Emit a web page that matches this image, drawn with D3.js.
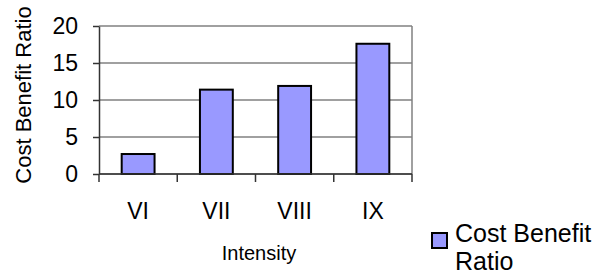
<!DOCTYPE html>
<html>
<head>
<meta charset="utf-8">
<script src="https://cdn.jsdelivr.net/npm/d3@7"></script>
<style>
  body { margin: 0; background: #fff; }
  svg { font-family: Arial, "Liberation Sans", sans-serif; }
</style>
</head>
<body>
<svg id="chart"></svg>
<script>
// chart data
const categories = ['VI', 'VII', 'VIII', 'IX'];
const ratioValues = [2.7, 11.4, 11.9, 17.6];
const yTicks = [0, 5, 10, 15, 20];
const seriesName = 'Cost Benefit Ratio';

const width = 610, height = 278;
const margin = {top: 26, right: 198, bottom: 104, left: 99};
const innerW = width - margin.left - margin.right;
const innerH = height - margin.top - margin.bottom;

const svg = d3.select('#chart')
    .attr('width', width)
    .attr('height', height);

const chart = svg.append('g')
    .attr('transform', `translate(${margin.left},${margin.top})`);

const xScale = d3.scaleBand()
    .domain(categories)
    .range([0, innerW])
    .paddingInner(0.58)
    .paddingOuter(0.29);

const yScale = d3.scaleLinear()
    .domain([0, 20])
    .range([innerH, 0]);

// gridlines
chart.append('g')
    .selectAll('line')
    .data(yTicks)
    .join('line')
    .attr('x1', 0)
    .attr('x2', innerW)
    .attr('y1', d => yScale(d))
    .attr('y2', d => yScale(d))
    .attr('stroke', '#808080')
    .attr('stroke-width', 1.5);

// right border
chart.append('line')
    .attr('x1', innerW).attr('x2', innerW)
    .attr('y1', 0).attr('y2', innerH)
    .attr('stroke', '#808080')
    .attr('stroke-width', 1.5);

// bars
chart.selectAll('.bar')
    .data(ratioValues)
    .join('rect')
    .attr('class', 'bar')
    .attr('x', (d, i) => xScale(categories[i]))
    .attr('y', d => yScale(d))
    .attr('width', xScale.bandwidth())
    .attr('height', d => innerH - yScale(d))
    .attr('fill', '#9999ff')
    .attr('stroke', '#000')
    .attr('stroke-width', 2);

// y axis
const yAxis = d3.axisLeft(yScale)
    .tickValues(yTicks)
    .tickSize(6)
    .tickSizeOuter(0)
    .tickPadding(15);

const yAxisG = chart.append('g').call(yAxis);
yAxisG.select('.domain').attr('stroke', '#333').attr('stroke-width', 1.5);
yAxisG.selectAll('.tick line').attr('stroke', '#333').attr('stroke-width', 1.5);
yAxisG.selectAll('.tick text')
    .attr('font-size', 23)
    .attr('fill', '#000')
    .attr('font-family', 'Arial, "Liberation Sans", sans-serif');

// x axis: ticks sit on category boundaries
const step = xScale.step();
const bounds = d3.range(categories.length + 1).map(i => i * step);
const xAxisG = chart.append('g')
    .attr('transform', `translate(0,${innerH})`);
xAxisG.append('line')
    .attr('x1', 0).attr('x2', innerW)
    .attr('stroke', '#333').attr('stroke-width', 1.5);
xAxisG.selectAll('.xtick')
    .data(bounds)
    .join('line')
    .attr('class', 'xtick')
    .attr('x1', d => d).attr('x2', d => d)
    .attr('y1', 0).attr('y2', 8)
    .attr('stroke', '#333').attr('stroke-width', 1.5);
xAxisG.selectAll('.xlabel')
    .data(categories)
    .join('text')
    .attr('class', 'xlabel')
    .attr('x', d => xScale(d) + xScale.bandwidth() / 2)
    .attr('y', 45)
    .attr('text-anchor', 'middle')
    .attr('font-size', 23)
    .text(d => d);

// axis titles
svg.append('text')
    .attr('x', 259)
    .attr('y', 260)
    .attr('text-anchor', 'middle')
    .attr('font-size', 20)
    .text('Intensity');

svg.append('text')
    .attr('transform', 'translate(31,95) rotate(-90)')
    .attr('text-anchor', 'middle')
    .attr('font-size', 22)
    .text(seriesName);

// legend
const legend = svg.append('g').attr('transform', 'translate(432,233)');
legend.append('rect')
    .attr('width', 15).attr('height', 15)
    .attr('fill', '#9999ff')
    .attr('stroke', '#000')
    .attr('stroke-width', 2);
legend.append('text')
    .attr('x', 23)
    .attr('y', 9)
    .attr('font-size', 25)
    .text('Cost Benefit');
legend.append('text')
    .attr('x', 23)
    .attr('y', 37)
    .attr('font-size', 25)
    .text('Ratio');
</script>
</body>
</html>
